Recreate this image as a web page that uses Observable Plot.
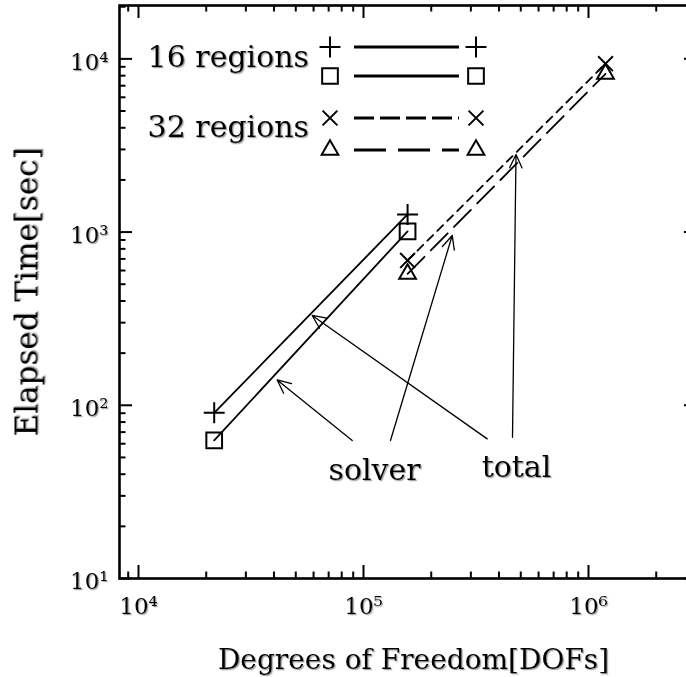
<!DOCTYPE html>
<html>
<head>
<meta charset="utf-8">
<script src="https://cdn.jsdelivr.net/npm/d3@7"></script>
<script src="https://cdn.jsdelivr.net/npm/@observablehq/plot@0.6"></script>
<style>
  html, body { margin: 0; padding: 0; background: #fff; overflow: hidden; }
  #chart svg { display: block; }
</style>
</head>
<body>
<div id="chart"></div>
<script>
// ---- data ----
const dofs16 = [21700, 157000];
const total16 = [90.5, 1265];
const solver16 = [62.7, 1010];
const dofs32 = [157000, 1190000];
const total32 = [686, 9380];
const solver32 = [574, 8200];

// tick values and labels
const xMajor = [1e4, 1e5, 1e6];
const xMajorLabels = ["10⁴", "10⁵", "10⁶"];
const xMinor = [9e3, 2e4, 3e4, 4e4, 5e4, 6e4, 7e4, 8e4, 9e4, 2e5, 3e5, 4e5, 5e5, 6e5, 7e5, 8e5, 9e5, 2e6, 3e6];
const yMajor = [1e1, 1e2, 1e3, 1e4];
const yMajorLabels = ["10¹", "10²", "10³", "10⁴"];
const yMinor = [20, 30, 40, 50, 60, 70, 80, 90, 200, 300, 400, 500, 600, 700, 800, 900,
                2000, 3000, 4000, 5000, 6000, 7000, 8000, 9000, 20000];

// legend
const legendGroups = ["16 regions", "32 regions"];
const seriesNames = ["16 regions total", "16 regions solver", "32 regions total", "32 regions solver"];

// annotations
const annoLabels = ["solver", "total"];
const annoLabelX = [112000, 478600];
const annoLabelY = [36.8, 38.8];
const arrowFromX = [89100, 131800, 354600, 459400];
const arrowFromY = [62.6, 62.6, 64.0, 65.4];
const arrowToX = [41340, 247900, 59160, 476200];
const arrowToY = [140, 956, 330, 2806];

// ---- build tables ----
const pts = (xs, ys) => xs.map((x, i) => ({x, y: ys[i]}));
const s16t = pts(dofs16, total16);
const s16s = pts(dofs16, solver16);
const s32t = pts(dofs32, total32);
const s32s = pts(dofs32, solver32);
const annos = annoLabels.map((t, i) => ({t, x: annoLabelX[i], y: annoLabelY[i]}));
const arrows = arrowFromX.map((x, i) => ({x1: x, y1: arrowFromY[i], x2: arrowToX[i], y2: arrowToY[i]}));
const xTicks = xMajor.map((v, i) => ({v, label: xMajorLabels[i]}));
const yTicks = yMajor.map((v, i) => ({v, label: yMajorLabels[i]}));

const FONT = "DejaVu Serif";
const W = 698, H = 677;
const mL = 119, mR = 1, mT = 5, mB = 99;
const frameW = W - mL - mR, frameH = H - mT - mB;
const major = 13, minor = 6.5;

const styles = [
  {symbol: "plus", r: 6.8, dash: null, legDash: null},
  {symbol: "square2", r: 10, dash: null, legDash: null},
  {symbol: "times", r: 6.8, dash: "8,6", legDash: "20,6"},
  {symbol: "triangle2", r: 8, dash: "24,9", legDash: "32,12"}
];

function legendMark(index, scales, values, dimensions) {
  const g = d3.create("svg:g");
  const rowsY = [47, 76, 118, 150];
  const leftX = 330, rightX = 476, lineX1 = 354, lineX2 = 459;
  styles.forEach((s, i) => {
    const y = rowsY[i];
    g.append("line").attr("x1", lineX1).attr("x2", lineX2).attr("y1", y).attr("y2", y)
      .attr("stroke", "#000").attr("stroke-width", 3.2)
      .attr("stroke-dasharray", s.legDash);
    const sym = {plus: d3.symbolPlus, square2: d3.symbolSquare2, times: d3.symbolTimes, triangle2: d3.symbolTriangle2}[s.symbol];
    const p = d3.symbol(sym, Math.PI * s.r * s.r)();
    [leftX, rightX].forEach(x => {
      g.append("path").attr("d", p).attr("transform", `translate(${x},${y})`)
        .attr("fill", "none").attr("stroke", "#000").attr("stroke-width", 2);
    });
  });
  const textY = [67, 137];
  legendGroups.forEach((t, i) => {
    g.append("text").attr("x", 309).attr("y", textY[i]).attr("text-anchor", "end")
      .attr("font-size", 30).attr("font-family", FONT).text(t);
  });
  return g.node();
}

const lineMarks = [s16t, s16s, s32t, s32s].flatMap((d, i) => [
  Plot.line(d, {x: "x", y: "y", stroke: "#000", strokeWidth: 1.8, strokeDasharray: styles[i].dash}),
  Plot.dot(d, {x: "x", y: "y", symbol: () => styles[i].symbol, r: styles[i].r, stroke: "#000", strokeWidth: 2, fill: "none"})
]);

const plot = Plot.plot({
  width: W, height: H,
  marginLeft: mL, marginRight: mR, marginTop: mT, marginBottom: mB,
  style: {fontFamily: FONT, background: "#fff", color: "#000"},
  x: {type: "log", domain: [8233, 3051000], axis: null},
  y: {type: "log", domain: [10, 20330], axis: null},
  marks: [
    // tick marks (inward, all four sides)
    Plot.tickX(xMajor, {x: d => d, insetTop: frameH - major, stroke: "#000", strokeWidth: 2}),
    Plot.tickX(xMinor, {x: d => d, insetTop: frameH - minor, stroke: "#000", strokeWidth: 2}),
    Plot.tickX(xMajor, {x: d => d, insetBottom: frameH - major, stroke: "#000", strokeWidth: 2}),
    Plot.tickX(xMinor, {x: d => d, insetBottom: frameH - minor, stroke: "#000", strokeWidth: 2}),
    Plot.tickY(yMajor, {y: d => d, insetRight: frameW - major, stroke: "#000", strokeWidth: 2}),
    Plot.tickY(yMinor, {y: d => d, insetRight: frameW - minor, stroke: "#000", strokeWidth: 2}),
    Plot.tickY(yMajor, {y: d => d, insetLeft: frameW - major, stroke: "#000", strokeWidth: 2}),
    Plot.tickY(yMinor, {y: d => d, insetLeft: frameW - minor, stroke: "#000", strokeWidth: 2}),
    // tick labels
    Plot.text(xTicks, {x: "v", frameAnchor: "bottom", text: "label", dy: 19, lineAnchor: "top", fontSize: 23, fill: "#000"}),
    Plot.text(yTicks, {y: "v", frameAnchor: "left", text: "label", dx: -11, dy: 3.5, textAnchor: "end", lineAnchor: "middle", fontSize: 23, fill: "#000"}),
    Plot.frame({stroke: "#000", strokeWidth: 2.6}),
    ...lineMarks,
    Plot.arrow(arrows, {x1: "x1", y1: "y1", x2: "x2", y2: "y2", stroke: "#000", strokeWidth: 1.3, headLength: 17, headAngle: 50}),
    Plot.text(annos, {x: "x", y: "y", text: "t", fontSize: 30, lineAnchor: "bottom", fill: "#000"}),
    Plot.text(["Degrees of Freedom[DOFs]"], {frameAnchor: "bottom", dx: 5, dy: 90, lineAnchor: "bottom", textAnchor: "middle", fontSize: 28, fill: "#000"}),
    Plot.text(["Elapsed Time[sec]"], {frameAnchor: "left", dx: -92, rotate: -90, textAnchor: "middle", lineAnchor: "middle", fontSize: 31, fill: "#000"}),
    legendMark
  ]
});

plot.style.maxWidth = "none";
plot.style.height = H + "px";
// subtle text shadow as in the reference
const defs = d3.select(plot).insert("defs", ":first-child");
defs.append("filter").attr("id", "tshadow").attr("x", "-10%").attr("y", "-10%").attr("width", "130%").attr("height", "130%")
  .append("feDropShadow").attr("dx", 1.2).attr("dy", 1.2).attr("stdDeviation", 0.7)
  .attr("flood-color", "#777").attr("flood-opacity", 0.7);
d3.select(plot).selectAll("text").attr("filter", "url(#tshadow)");
document.getElementById("chart").appendChild(plot);
</script>
</body>
</html>
